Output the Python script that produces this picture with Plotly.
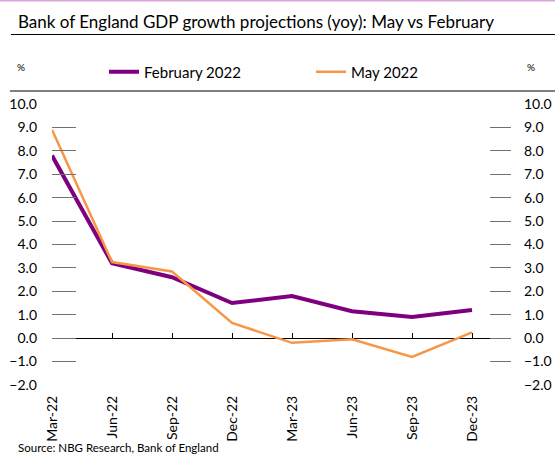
import plotly.graph_objects as go

categories = ["Mar-22", "Jun-22", "Sep-22", "Dec-22", "Mar-23", "Jun-23", "Sep-23", "Dec-23"]
feb_2022 = [7.8, 3.2, 2.6, 1.5, 1.8, 1.15, 0.9, 1.2]
may_2022 = [8.9, 3.25, 2.85, 0.65, -0.2, -0.05, -0.8, 0.25]
y_ticks = [-2, -1, 0, 1, 2, 3, 4, 5, 6, 7, 8, 9, 10]

FONT = "Lato"
W, H = 555, 457
ML, MR, MT, MB = 52, 44, 104, 72
PW, PH = W - ML - MR, H - MT - MB


def px_x(px):
    return (px - ML) / PW


def px_y(py):
    return (H - MB - py) / PH


fig = go.Figure()
fig.add_trace(go.Scatter(x=categories, y=feb_2022, mode="lines", name="February 2022",
                         line=dict(color="#7F007F", width=4)))
fig.add_trace(go.Scatter(x=categories, y=may_2022, mode="lines", name="May 2022",
                         line=dict(color="#F79646", width=2.5)))
# invisible trace for right axis
fig.add_trace(go.Scatter(x=categories, y=may_2022, yaxis="y2", mode="lines",
                         line=dict(width=0), showlegend=False, hoverinfo="skip", opacity=0))
# invisible trace for tick marks on zero line axis
fig.add_trace(go.Scatter(x=categories, y=may_2022, xaxis="x2", mode="lines",
                         line=dict(width=0), showlegend=False, hoverinfo="skip", opacity=0))

xr = [0, 7.65]
fig.update_layout(
    width=W, height=H,
    margin=dict(l=ML, r=MR, t=MT, b=MB, autoexpand=False),
    paper_bgcolor="white", plot_bgcolor="white",
    font=dict(family=FONT, size=14, color="black"),
    showlegend=True,
    legend=dict(orientation="h", x=px_x(104), xanchor="left", y=px_y(72), yanchor="middle",
                font=dict(size=15), entrywidth=162, itemwidth=30,
                bgcolor="rgba(0,0,0,0)", tracegroupgap=0),
    title=dict(text="Bank of England GDP growth projections (yoy): May vs February",
               x=18 / W, xanchor="left", xref="container",
               y=1 - 22 / H, yanchor="middle", yref="container",
               font=dict(family=FONT, size=17, color="black")),
    xaxis=dict(type="category", categoryarray=categories, range=xr,
               showline=False, showgrid=False, zeroline=False, ticks="",
               tickangle=-90, tickfont=dict(size=14), ticklabelstandoff=7),
    xaxis2=dict(type="category", categoryarray=categories, range=xr, overlaying="x",
                anchor="free", position=px_y(337.7), showline=False, showgrid=False,
                zeroline=False, ticks="inside", ticklen=5, tickcolor="black", tickwidth=1,
                showticklabels=False),
    yaxis=dict(range=[-2, 10], tickvals=y_ticks, tickformat=".1f", showgrid=False,
               showline=False, zeroline=True, zerolinecolor="black", zerolinewidth=1.3,
               ticks="inside", ticklen=24, tickcolor="#707070", tickwidth=1,
               tickfont=dict(size=14), ticklabelstandoff=14),
    yaxis2=dict(range=[-2, 10], tickvals=y_ticks, tickformat=".1f", overlaying="y",
                side="right", showgrid=False, showline=False, zeroline=False,
                ticks="inside", ticklen=21, tickcolor="#707070", tickwidth=1,
                tickfont=dict(size=14), ticklabelstandoff=12),
)

shapes = [
    dict(type="line", xref="paper", yref="paper", x0=px_x(0), x1=px_x(W), y0=px_y(0.8), y1=px_y(0.8),
         line=dict(color="#D9A3D9", width=1.5)),
    dict(type="line", xref="paper", yref="paper", x0=px_x(11), x1=px_x(W), y0=px_y(34.5), y1=px_y(34.5),
         line=dict(color="black", width=1)),
    dict(type="line", xref="paper", yref="paper", x0=px_x(10), x1=px_x(W), y0=px_y(91), y1=px_y(91),
         line=dict(color="black", width=1)),
]
fig.update_layout(shapes=shapes)

annotations = [
    dict(text="%", xref="paper", yref="paper", x=px_x(21), y=px_y(67), showarrow=False,
         xanchor="center", yanchor="middle", font=dict(size=10)),
    dict(text="%", xref="paper", yref="paper", x=px_x(531), y=px_y(67), showarrow=False,
         xanchor="center", yanchor="middle", font=dict(size=10)),
    dict(text="Source: NBG Research, Bank of England", xref="paper", yref="paper",
         x=px_x(16), y=px_y(439), showarrow=False, xanchor="left", yanchor="top",
         font=dict(size=11.5)),
]
fig.update_layout(annotations=annotations)

fig.write_html("out.html")
